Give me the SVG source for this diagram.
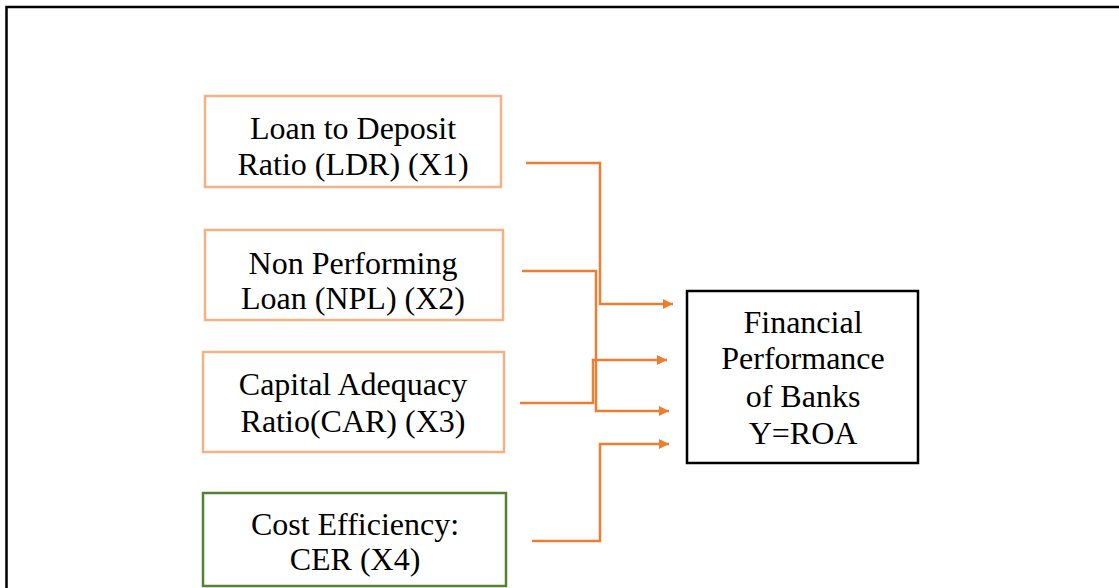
<svg xmlns="http://www.w3.org/2000/svg" width="1119" height="588" viewBox="0 0 1119 588">
<style>
.t{font-family:"Liberation Serif","Times New Roman",serif;font-size:32px;fill:#000;text-anchor:middle}
.ob{fill:#fff;stroke:#F4B183;stroke-width:2.5}
.gb{fill:#fff;stroke:#548235;stroke-width:2.5}
.bb{fill:#fff;stroke:#000;stroke-width:2.5}
.c{fill:none;stroke:#ED7D31;stroke-width:2.5}
</style>
<defs>
<marker id="ah" viewBox="0 0 10 10" refX="10" refY="5" markerWidth="4" markerHeight="4" markerUnits="strokeWidth" orient="auto">
<path d="M0,0 L10,5 L0,10 z" fill="#ED7D31"/>
</marker>
</defs>
<rect width="1119" height="588" fill="#fff"/>
<path d="M6.5,588 V7 H1119" fill="none" stroke="#000" stroke-width="2.5"/>
<g id="x1"><rect class="ob" x="205" y="96" width="296" height="91"/>
<text class="t" x="353" y="139">Loan to Deposit</text><text class="t" x="353" y="175">Ratio (LDR) (X1)</text></g>
<g id="x2"><rect class="ob" x="205" y="230" width="298" height="90"/>
<text class="t" x="353" y="274">Non Performing</text><text class="t" x="353" y="309">Loan (NPL) (X2)</text></g>
<g id="x3"><rect class="ob" x="203" y="352" width="301" height="100"/>
<text class="t" x="353" y="395">Capital Adequacy</text><text class="t" x="353" y="432">Ratio(CAR) (X3)</text></g>
<g id="x4"><rect class="gb" x="203" y="493" width="303" height="93"/>
<text class="t" x="355" y="535">Cost Efficiency:</text><text class="t" x="355" y="570">CER (X4)</text></g>
<g id="y"><rect class="bb" x="687" y="291" width="231" height="172"/>
<text class="t" x="803" y="333">Financial</text><text class="t" x="803" y="369">Performance</text><text class="t" x="803" y="407">of Banks</text><text class="t" x="803" y="444">Y=ROA</text></g>
<g id="connectors">
<path class="c" d="M526,163 H600 V304 H673" marker-end="url(#ah)"/>
<path class="c" d="M522,271 H596 V411 H669" marker-end="url(#ah)"/>
<path class="c" d="M520,403 H593 V360 H667" marker-end="url(#ah)"/>
<path class="c" d="M532,541 H600 V444 H669" marker-end="url(#ah)"/>
</g>
</svg>
